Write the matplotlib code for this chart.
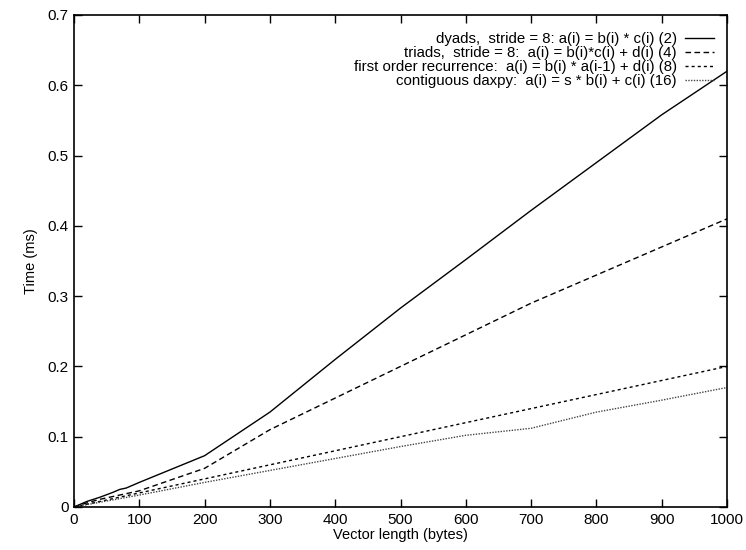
import matplotlib
matplotlib.use("Agg")
import matplotlib.pyplot as plt

plt.rcParams['font.family'] = ['Liberation Sans', 'DejaVu Sans']

dyads_x = [0, 10, 20, 40, 60, 70, 80, 90, 100, 200, 300, 400, 500, 600, 700, 800, 900, 1000]
dyads_y = [0, 0.004, 0.008, 0.014, 0.021, 0.025, 0.027, 0.031, 0.035, 0.073, 0.135, 0.21, 0.283, 0.352, 0.422, 0.49, 0.558, 0.62]

triads_x = [0, 20, 40, 60, 80, 100, 200, 300, 400, 500, 600, 700, 800, 900, 1000]
triads_y = [0, 0.006, 0.011, 0.015, 0.019, 0.023, 0.055, 0.11, 0.155, 0.2, 0.245, 0.29, 0.33, 0.37, 0.41]

recur_x = [0, 50, 80, 100, 200, 300, 400, 500, 600, 700, 800, 900, 1000]
recur_y = [0, 0.01, 0.016, 0.02, 0.04, 0.06, 0.08, 0.1, 0.12, 0.14, 0.16, 0.18, 0.2]

daxpy_x = [0, 100, 200, 300, 400, 500, 600, 700, 800, 900, 1000]
daxpy_y = [0, 0.017, 0.035, 0.052, 0.069, 0.086, 0.102, 0.112, 0.135, 0.152, 0.17]

labels = [
    "dyads,  stride = 8: a(i) = b(i) * c(i) (2)",
    "triads,  stride = 8:  a(i) = b(i)*c(i) + d(i) (4)",
    "first order recurrence:  a(i) = b(i) * a(i-1) + d(i) (8)",
    "contiguous daxpy:  a(i) = s * b(i) + c(i) (16)",
]

xticks = [0, 100, 200, 300, 400, 500, 600, 700, 800, 900, 1000]
yticks = [0, 0.1, 0.2, 0.3, 0.4, 0.5, 0.6, 0.7]
ytick_labels = ["0", "0.1", "0.2", "0.3", "0.4", "0.5", "0.6", "0.7"]

fig = plt.figure(figsize=(7.46, 5.5), dpi=100)
ax = fig.add_axes([74/746, 1 - 507/550, (727 - 74)/746, (507 - 15)/550])

ax.plot(dyads_x, dyads_y, color='black', lw=1.0, ls='-', label=labels[0])
ax.plot(triads_x, triads_y, color='black', lw=1.0, ls=(0, (4, 2.5)), label=labels[1])
ax.plot(recur_x, recur_y, color='black', lw=1.0, ls=(0, (2.2, 2.2)), label=labels[2])
ax.plot(daxpy_x, daxpy_y, color='#444444', lw=1.0, ls=(0, (1, 1)), label=labels[3])

ax.set_xlim(0, 1000)
ax.set_ylim(0, 0.7)
ax.set_xticks(xticks)
ax.set_yticks(yticks)
ax.set_yticklabels(ytick_labels)
ax.tick_params(direction='in', top=True, right=True, length=6, width=1, labelsize=11, pad=4)
for s in ax.spines.values():
    s.set_linewidth(1.2)

ax.set_xlabel("Vector length (bytes)", fontsize=10.5, labelpad=1)
ax.set_ylabel("Time (ms)", fontsize=10.5, labelpad=7)

leg = ax.legend(loc='upper right', bbox_to_anchor=(1 - 7.5/653, 1 - 11.5/492),
                frameon=False, markerfirst=False, fontsize=10.8,
                handlelength=1.9, handletextpad=0.55, labelspacing=0.0,
                borderaxespad=0.0)

fig.savefig("out.png", dpi=100)
